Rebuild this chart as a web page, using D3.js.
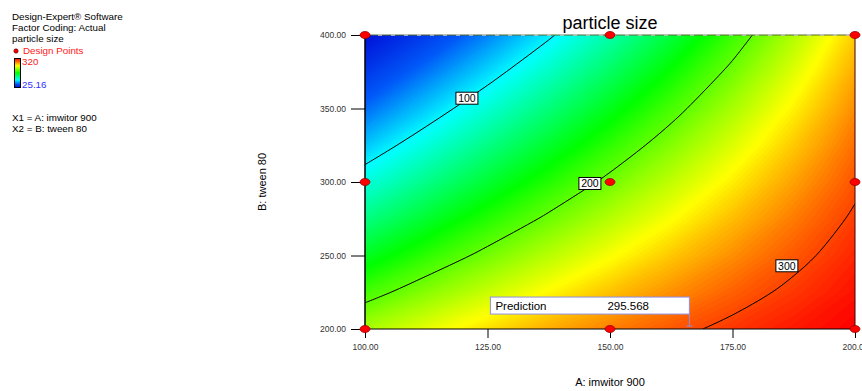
<!DOCTYPE html>
<html>
<head>
<meta charset="utf-8">
<script src="https://cdn.jsdelivr.net/npm/d3@7"></script>
<style>
  body { margin: 0; background: #fff; font-family: "Liberation Sans", Arial, sans-serif; }
  .tick text { font-family: "Liberation Sans", Arial, sans-serif; }
</style>
</head>
<body>
<svg id="chart" width="862" height="391"></svg>
<script>
// factor levels of the response grid
const imwitorLevels = [100, 112.5, 125, 137.5, 150, 162.5, 175, 187.5, 200]
const tweenLevels = [200, 225, 250, 275, 300, 325, 350, 375, 400]
// particle size, one row per tween 80 level (200 -> 400), one column per imwitor 900 level
const particleSize = [
  [221.2, 239.1, 255.4, 270.2, 283.3, 294.9, 304.8, 313.2, 320.0],
  [191.5, 211.6, 230.4, 247.8, 263.9, 278.7, 292.2, 304.3, 315.0],
  [163.2, 185.1, 205.9, 225.7, 244.5, 262.2, 278.9, 294.7, 309.3],
  [136.5, 159.6, 182.0, 203.8, 224.9, 245.4, 265.2, 284.4, 302.9],
  [111.2, 135.0, 158.6, 182.0, 205.2, 228.2, 250.9, 273.5, 295.8],
  [87.5, 111.5, 135.9, 160.5, 185.4, 210.7, 236.2, 262.0, 288.1],
  [65.2, 89.0, 113.7, 139.2, 165.6, 192.8, 220.9, 249.8, 279.6],
  [44.4, 67.5, 92.0, 118.1, 145.6, 174.6, 205.0, 237.0, 270.4],
  [25.16, 47.0, 71.0, 97.2, 125.5, 156.0, 188.7, 223.5, 260.6]
]
const contourLevels = [100, 200, 300]
const contourLabels = [
  { level: 100, a: 120.8, b: 357 },
  { level: 200, a: 145.9, b: 299 },
  { level: 300, a: 186.1, b: 243 }
]
const designPoints = [
  [100, 200], [100, 300], [100, 400],
  [150, 200], [150, 300], [150, 400],
  [200, 200], [200, 300], [200, 400]
]
const prediction = { a: 166.2, b: 202, value: "295.568" }
const xTicks = [100, 125, 150, 175, 200]
const yTicks = [200, 250, 300, 350, 400]
const zMin = 25.16
const zMax = 320
const legendLines = ["Design-Expert® Software", "Factor Coding: Actual", "particle size"]
const factorLines = ["X1 = A: imwitor 900", "X2 = B: tween 80"]

const svg = d3.select("#chart")
const font = '"Liberation Sans", Arial, sans-serif'
const margin = { left: 365, top: 35, right: 7, bottom: 62 }
const width = 862, height = 391
const innerW = width - margin.left - margin.right
const innerH = height - margin.top - margin.bottom

const x = d3.scaleLinear().domain([100, 200]).range([margin.left, margin.left + innerW])
const y = d3.scaleLinear().domain([200, 400]).range([margin.top + innerH, margin.top])

// rainbow used by Design-Expert (a little deeper in the blue end)
const zStops = [0, 0.12, 0.26, 0.5, 0.75, 1].map(f => zMin + f * (zMax - zMin))
const color = d3.scaleLinear()
  .domain(zStops)
  .range(["#0010d8", "#0058f8", "#00ffff", "#00ff00", "#ffff00", "#ff0000"])
  .clamp(true)

const nx = imwitorLevels.length, ny = tweenLevels.length
const values = particleSize.flat()
// grid coordinates -> factor values (grid value i sits at i + 0.5)
const gx = d3.scaleLinear().domain([0.5, nx - 0.5]).range([imwitorLevels[0], imwitorLevels[nx - 1]])
const gy = d3.scaleLinear().domain([0.5, ny - 0.5]).range([tweenLevels[0], tweenLevels[ny - 1]])
const path = d3.geoPath(d3.geoTransform({
  point(px, py) { this.stream.point(x(gx(px)), y(gy(py))) }
}))

svg.append("clipPath").attr("id", "plotClip")
  .append("rect")
  .attr("x", margin.left).attr("y", margin.top)
  .attr("width", innerW).attr("height", innerH)

const plot = svg.append("g").attr("clip-path", "url(#plotClip)")

// colour field: nested "above threshold" areas painted from low to high
const step = 2
const bands = d3.contours().size([nx, ny]).thresholds(d3.range(20, zMax + step, step))(values)
plot.append("g")
  .selectAll("path")
  .data(bands)
  .join("path")
  .attr("d", path)
  .attr("fill", d => color(d.value + step / 2))

/** pulls the iso line runs (inside the data rectangle) out of a contour ring */
function isoRuns(ring) {
  const eps = 1e-6
  const inside = p => p[0] >= 0.5 - eps && p[0] <= nx - 0.5 + eps &&
                      p[1] >= 0.5 - eps && p[1] <= ny - 0.5 + eps
  const pts = ring.slice(0, -1)
  const start = pts.findIndex(p => !inside(p))
  if (start < 0) return [pts.concat([pts[0]])]
  const rotated = pts.slice(start).concat(pts.slice(0, start))
  const runs = []
  let run = []
  for (const p of rotated) {
    if (inside(p)) run.push(p)
    else { if (run.length > 1) runs.push(run); run = [] }
  }
  if (run.length > 1) runs.push(run)
  return runs
}

// contour lines, smoothed through the iso points
const isoLine = d3.line()
  .x(p => x(gx(p[0])))
  .y(p => y(gy(p[1])))
  .curve(d3.curveCatmullRom.alpha(0.5))
const isoPaths = []
for (const c of d3.contours().size([nx, ny]).thresholds(contourLevels)(values)) {
  for (const poly of c.coordinates) {
    for (const ring of poly) isoRuns(ring).forEach(r => isoPaths.push(r))
  }
}
plot.append("g")
  .selectAll("path")
  .data(isoPaths)
  .join("path")
  .attr("d", isoLine)
  .attr("fill", "none")
  .attr("stroke", "#000")
  .attr("stroke-width", 1)

// frame
const x0 = x(100), x1 = x(200), y0 = y(200), y1 = y(400)
svg.append("line").attr("x1", x0).attr("x2", x1).attr("y1", y1).attr("y2", y1)
  .attr("stroke", "#556b2f").attr("stroke-width", 1)
svg.append("line").attr("x1", x0).attr("x2", x1).attr("y1", y1).attr("y2", y1)
  .attr("stroke", "#c8c8c8").attr("stroke-width", 1.5).attr("stroke-dasharray", "4,9")
svg.append("line").attr("x1", x0).attr("x2", x0).attr("y1", y1).attr("y2", y0)
  .attr("stroke", "#000").attr("stroke-width", 1.5)
svg.append("line").attr("x1", x0).attr("x2", x1).attr("y1", y0).attr("y2", y0)
  .attr("stroke", "#000").attr("stroke-width", 1)
svg.append("line").attr("x1", x1).attr("x2", x1).attr("y1", y1).attr("y2", y0)
  .attr("stroke", "#400").attr("stroke-width", 1)

// axes
const yAxis = svg.append("g")
  .attr("transform", `translate(${x0},0)`)
  .call(d3.axisLeft(y).tickValues(yTicks).tickFormat(d3.format(".2f")).tickSize(14).tickPadding(5))
const xAxis = svg.append("g")
  .attr("transform", `translate(0,${y0})`)
  .call(d3.axisBottom(x).tickValues(xTicks).tickFormat(d3.format(".2f")).tickSize(9).tickPadding(6))
for (const ax of [xAxis, yAxis]) {
  ax.select(".domain").remove()
  ax.selectAll(".tick line").attr("stroke", "#000")
  ax.selectAll(".tick text").attr("fill", "#333").style("font-size", "8.5px").style("font-family", font)
}

// contour labels
const lbl = svg.append("g").selectAll("g").data(contourLabels).join("g")
  .attr("transform", d => `translate(${x(d.a)},${y(d.b)})`)
lbl.append("rect").attr("x", -11).attr("y", -6).attr("width", 22).attr("height", 12)
  .attr("fill", "#fff").attr("stroke", "#000").attr("stroke-width", 1)
lbl.append("text").attr("text-anchor", "middle").attr("dy", "0.36em")
  .style("font-size", "10.5px").style("font-family", font).text(d => d.level)

// design points
svg.append("g").selectAll("ellipse").data(designPoints).join("ellipse")
  .attr("cx", d => x(d[0])).attr("cy", d => y(d[1]))
  .attr("rx", 5).attr("ry", 3.5)
  .attr("fill", "#ff0000").attr("stroke", "#900").attr("stroke-width", 0.8)

// prediction flag
const px = x(prediction.a), py = y(prediction.b)
const flag = svg.append("g")
flag.append("line").attr("x1", px).attr("x2", px).attr("y1", py - 12).attr("y2", py)
  .attr("stroke", "#8f8fe8").attr("stroke-width", 1)
flag.append("line").attr("x1", px - 3).attr("x2", px + 3).attr("y1", py).attr("y2", py)
  .attr("stroke", "#8f8fe8").attr("stroke-width", 1)
flag.append("rect").attr("x", px - 199).attr("y", py - 29).attr("width", 199).attr("height", 17)
  .attr("fill", "#fff").attr("stroke", "#8f8fe8").attr("stroke-width", 1)
flag.append("text").attr("x", px - 194).attr("y", py - 16.5)
  .style("font-size", "11.5px").style("font-family", font).text("Prediction")
flag.append("text").attr("x", px - 82).attr("y", py - 16.5)
  .style("font-size", "11.5px").style("font-family", font).text(prediction.value)

// title and axis titles
svg.append("text").attr("x", (x0 + x1) / 2).attr("y", 29).attr("text-anchor", "middle")
  .style("font-size", "18px").style("font-family", font).text("particle size")
svg.append("text").attr("x", (x0 + x1) / 2).attr("y", 386).attr("text-anchor", "middle")
  .style("font-size", "11px").style("font-family", font).text("A: imwitor 900")
svg.append("text").attr("transform", `translate(266,${(y0 + y1) / 2}) rotate(-90)`)
  .attr("text-anchor", "middle")
  .style("font-size", "11px").style("font-family", font).text("B: tween 80")

// legend block
const legend = svg.append("g").style("font-family", font).style("font-size", "9.8px")
legend.selectAll(".info").data(legendLines).join("text").attr("class", "info")
  .attr("x", 12).attr("y", (d, i) => 20 + i * 11).text(d => d)
legend.append("circle").attr("cx", 16).attr("cy", 51).attr("r", 2.2)
  .attr("fill", "#e00").attr("stroke", "#600").attr("stroke-width", 0.6)
legend.append("text").attr("x", 23).attr("y", 54).attr("fill", "#ff2020").text("Design Points")

const grad = svg.append("defs").append("linearGradient").attr("id", "zbar")
  .attr("x1", 0).attr("x2", 0).attr("y1", 1).attr("y2", 0)
grad.selectAll("stop").data(zStops).join("stop")
  .attr("offset", d => (d - zMin) / (zMax - zMin))
  .attr("stop-color", d => color(d))
legend.append("rect").attr("x", 14.5).attr("y", 58.5).attr("width", 6).attr("height", 29)
  .attr("fill", "url(#zbar)").attr("stroke", "#000").attr("stroke-width", 1)
legend.append("text").attr("x", 22).attr("y", 65).attr("fill", "#ff2020").text(zMax)
legend.append("text").attr("x", 22).attr("y", 87.5).attr("fill", "#3030ff").text(zMin)
legend.selectAll(".factor").data(factorLines).join("text").attr("class", "factor")
  .attr("x", 12).attr("y", (d, i) => 121 + i * 10.5).text(d => d)
</script>
</body>
</html>
